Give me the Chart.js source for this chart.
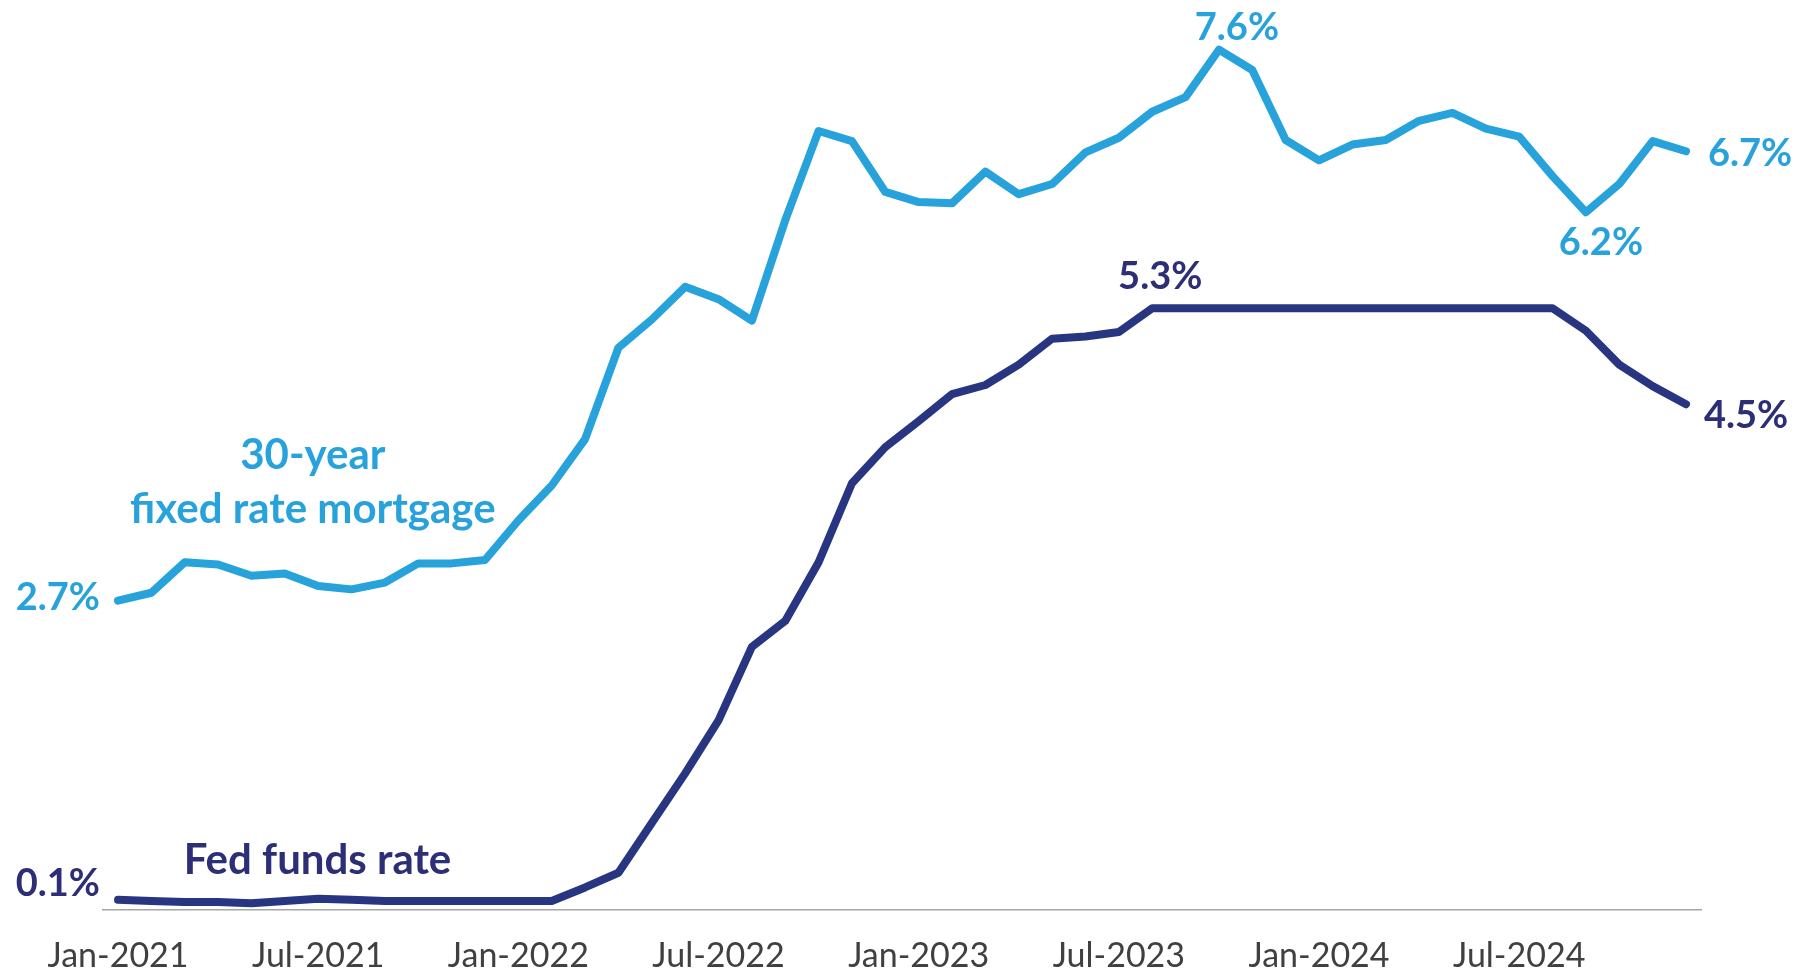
<!DOCTYPE html>
<html>
<head>
<meta charset="utf-8">
<script src="https://cdn.jsdelivr.net/npm/chart.js@4.4.0/dist/chart.umd.min.js"></script>
<style>
  html, body { margin: 0; padding: 0; background: #ffffff; }
  canvas { display: block; }
</style>
</head>
<body>
<canvas id="ratesChart" width="1803" height="976"></canvas>
<script>
// Meses (jan/2021 a dez/2024)
const months = [
  'Jan-2021', 'Feb-2021', 'Mar-2021', 'Apr-2021', 'May-2021', 'Jun-2021',
  'Jul-2021', 'Aug-2021', 'Sep-2021', 'Oct-2021', 'Nov-2021', 'Dec-2021',
  'Jan-2022', 'Feb-2022', 'Mar-2022', 'Apr-2022', 'May-2022', 'Jun-2022',
  'Jul-2022', 'Aug-2022', 'Sep-2022', 'Oct-2022', 'Nov-2022', 'Dec-2022',
  'Jan-2023', 'Feb-2023', 'Mar-2023', 'Apr-2023', 'May-2023', 'Jun-2023',
  'Jul-2023', 'Aug-2023', 'Sep-2023', 'Oct-2023', 'Nov-2023', 'Dec-2023',
  'Jan-2024', 'Feb-2024', 'Mar-2024', 'Apr-2024', 'May-2024', 'Jun-2024',
  'Jul-2024', 'Aug-2024', 'Sep-2024', 'Oct-2024', 'Nov-2024', 'Dec-2024'
];

// 30-year fixed rate mortgage (%)
const mortgage = [
  2.74, 2.81, 3.08, 3.06, 2.96, 2.98, 2.87, 2.84, 2.90, 3.07, 3.07, 3.10,
  3.45, 3.76, 4.17, 4.98, 5.23, 5.52, 5.41, 5.22, 6.11, 6.90, 6.81, 6.36,
  6.27, 6.26, 6.54, 6.34, 6.43, 6.71, 6.84, 7.07, 7.20, 7.62, 7.44, 6.82,
  6.64, 6.78, 6.82, 6.99, 7.06, 6.92, 6.85, 6.50, 6.18, 6.43, 6.81, 6.72
];

// Fed funds rate (%)
const fedFunds = [
  0.09, 0.08, 0.07, 0.07, 0.06, 0.08, 0.10, 0.09, 0.08, 0.08, 0.08, 0.08,
  0.08, 0.08, 0.20, 0.33, 0.77, 1.21, 1.68, 2.33, 2.56, 3.08, 3.78, 4.10,
  4.33, 4.57, 4.65, 4.83, 5.06, 5.08, 5.12, 5.33, 5.33, 5.33, 5.33, 5.33,
  5.33, 5.33, 5.33, 5.33, 5.33, 5.33, 5.33, 5.33, 5.13, 4.83, 4.64, 4.48
];

// Rótulos do eixo X (a cada 6 meses)
const tickLabels = ['Jan-2021', 'Jul-2021', 'Jan-2022', 'Jul-2022', 'Jan-2023', 'Jul-2023', 'Jan-2024', 'Jul-2024'];

const LIGHT_BLUE = '#27a2db';
const NAVY_LINE = '#283580';
const NAVY_TEXT = '#2c2e76';
const FONT = 'Lato, "Open Sans", sans-serif';

// Rótulos de valor presos aos pontos (dataset, índice, deslocamento)
const valueLabels = [
  { ds: 0, i: 0, dx: -18, dy: -3, align: 'right' },
  { ds: 0, i: 33, dx: 18, dy: -22, align: 'center' },
  { ds: 0, i: 44, dx: 15, dy: 30, align: 'center' },
  { ds: 0, i: 47, dx: 22, dy: 2, align: 'left' },
  { ds: 1, i: 0, dx: -18, dy: -16, align: 'right' },
  { ds: 1, i: 31, dx: 8, dy: -31, align: 'center' },
  { ds: 1, i: 47, dx: 18, dy: 12, align: 'left' }
];

// Nomes das séries, posicionados em coordenadas de dados
const seriesNames = [
  { lines: ['30-year', 'fixed rate mortgage'], x: 5.84, y: 4.03, step: 0.48, color: LIGHT_BLUE },
  { lines: ['Fed funds rate'], x: 5.98, y: 0.44, step: 0, color: NAVY_TEXT }
];

const labelPlugin = {
  id: 'labelPlugin',
  afterDatasetsDraw(chart) {
    const ctx = chart.ctx;
    const xs = chart.scales.x;
    const ys = chart.scales.y;
    ctx.save();
    ctx.textBaseline = 'middle';
    ctx.font = 'bold 38px ' + FONT;

    valueLabels.forEach(l => {
      const ds = chart.data.datasets[l.ds];
      const pt = chart.getDatasetMeta(l.ds).data[l.i];
      const v = ds.data[l.i].y;
      ctx.fillStyle = l.ds === 0 ? LIGHT_BLUE : NAVY_TEXT;
      ctx.textAlign = l.align;
      ctx.fillText(v.toFixed(1) + '%', pt.x + l.dx, pt.y + l.dy);
    });

    ctx.font = 'bold 42px ' + FONT;
    ctx.textAlign = 'center';
    seriesNames.forEach(s => {
      ctx.fillStyle = s.color;
      s.lines.forEach((t, k) => {
        ctx.fillText(t, xs.getPixelForValue(s.x), ys.getPixelForValue(s.y - k * s.step));
      });
    });
    ctx.restore();
  }
};

function toPoints(values) {
  return values.map((v, i) => ({ x: i, y: v }));
}

document.addEventListener('DOMContentLoaded', () => {
  const canvas = document.getElementById('ratesChart');
  const tickPositions = tickLabels.map(t => months.indexOf(t));

  new Chart(canvas, {
    type: 'line',
    data: {
      datasets: [
        {
          label: '30-year fixed rate mortgage',
          data: toPoints(mortgage),
          borderColor: LIGHT_BLUE,
          borderWidth: 8,
          pointRadius: 0,
          tension: 0,
          borderJoinStyle: 'round',
          borderCapStyle: 'round'
        },
        {
          label: 'Fed funds rate',
          data: toPoints(fedFunds),
          borderColor: NAVY_LINE,
          borderWidth: 8,
          pointRadius: 0,
          tension: 0,
          borderJoinStyle: 'round',
          borderCapStyle: 'round'
        }
      ]
    },
    options: {
      responsive: false,
      animation: false,
      events: [],
      layout: { padding: { left: 103, right: 102, top: 0, bottom: 0 } },
      plugins: {
        legend: { display: false },
        tooltip: { enabled: false }
      },
      scales: {
        x: {
          type: 'linear',
          min: -0.45,
          max: months.length - 1 + 0.45,
          grid: { display: false, drawTicks: false },
          border: { display: true, color: '#a6a6a6', width: 1.5 },
          afterBuildTicks: scale => {
            scale.ticks = tickPositions.map(v => ({ value: v }));
          },
          afterFit: scale => { scale.height = 66; },
          ticks: {
            autoSkip: false,
            maxRotation: 0,
            padding: 26,
            color: '#404040',
            font: { family: FONT, size: 34 },
            callback: value => months[value]
          }
        },
        y: {
          display: false,
          min: 0,
          max: 8.06
        }
      }
    },
    plugins: [labelPlugin]
  });
});
</script>
</body>
</html>
